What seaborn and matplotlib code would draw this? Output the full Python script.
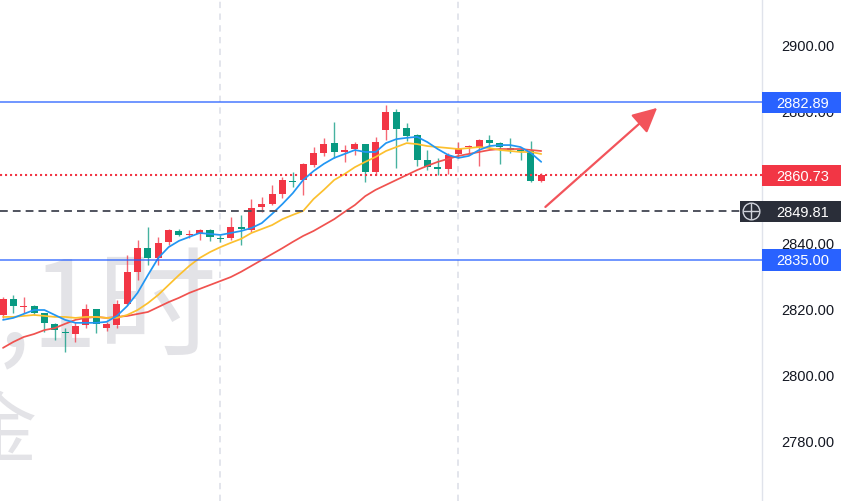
import numpy as np
import pandas as pd
import matplotlib
matplotlib.use('Agg')
import matplotlib.pyplot as plt
import matplotlib.transforms as mtrans
from matplotlib.patches import Rectangle
from matplotlib.lines import Line2D
import seaborn as sns

# ---------------- data ----------------
opens = [2818.3, 2823.2, 2820.7, 2821.0, 2818.9, 2815.6, 2813.1, 2812.5, 2815.3, 2820.1, 2814.3, 2815.3, 2821.6,
         2831.4, 2838.6, 2835.6, 2840.5, 2843.8, 2842.6, 2842.9, 2844.1, 2841.7, 2841.7, 2845.0, 2844.1, 2851.1,
         2852.0, 2855.0, 2859.0, 2859.3, 2863.9, 2867.5, 2870.5, 2867.8, 2868.7, 2870.2, 2861.7, 2874.5, 2879.9,
         2875.1, 2873.0, 2865.4, 2863.2, 2862.6, 2867.2, 2869.3, 2869.3, 2871.4, 2870.5, 2869.0, 2868.4, 2868.1,
         2859.0]
highs = [2823.8, 2824.4, 2823.8, 2821.3, 2818.9, 2815.9, 2814.3, 2816.2, 2821.6, 2820.1, 2816.2, 2822.8, 2836.5,
         2841.1, 2845.0, 2842.0, 2844.4, 2844.4, 2844.1, 2844.4, 2844.4, 2842.6, 2848.1, 2848.7, 2853.5, 2854.1,
         2857.8, 2860.2, 2861.7, 2864.5, 2869.3, 2872.1, 2876.9, 2869.9, 2870.8, 2870.2, 2872.4, 2882.1, 2880.9,
         2876.6, 2873.3, 2868.4, 2866.0, 2867.5, 2870.8, 2869.9, 2871.7, 2873.0, 2870.8, 2872.1, 2869.0, 2871.1,
         2861.4]
lows = [2817.4, 2818.9, 2818.9, 2818.3, 2813.1, 2810.7, 2807.0, 2810.1, 2814.3, 2812.8, 2813.4, 2814.3, 2821.3,
        2828.9, 2833.5, 2833.5, 2839.6, 2842.3, 2841.7, 2841.1, 2840.8, 2840.5, 2841.1, 2839.6, 2843.5, 2849.6,
        2851.7, 2853.8, 2857.2, 2854.7, 2863.2, 2866.6, 2866.0, 2864.8, 2866.9, 2858.7, 2860.8, 2871.4, 2862.9,
        2871.1, 2863.6, 2862.3, 2860.8, 2861.1, 2866.0, 2867.2, 2863.6, 2868.7, 2864.2, 2867.5, 2865.4, 2858.7,
        2858.7]
closes = [2823.2, 2821.0, 2821.0, 2818.9, 2815.9, 2813.7, 2812.8, 2814.9, 2820.1, 2815.6, 2815.6, 2821.6, 2831.4,
          2838.6, 2835.6, 2840.2, 2844.1, 2842.6, 2842.9, 2844.1, 2842.0, 2841.4, 2845.0, 2844.4, 2850.8, 2852.0,
          2855.0, 2859.3, 2858.7, 2864.2, 2867.5, 2870.2, 2867.8, 2868.4, 2870.2, 2861.7, 2870.8, 2879.9, 2874.8,
          2872.7, 2865.4, 2863.2, 2862.6, 2866.9, 2869.0, 2869.6, 2871.4, 2870.5, 2869.3, 2868.4, 2868.1, 2859.0,
          2860.7]

ma_fast = [2816.8, 2817.4, 2818.6, 2819.8, 2819.8, 2818.3, 2816.8, 2815.9, 2815.9, 2815.9, 2816.2, 2818.0, 2821.0,
           2825.0, 2830.4, 2835.6, 2838.9, 2840.8, 2842.0, 2843.2, 2842.9, 2842.6, 2843.2, 2843.8, 2844.7, 2846.2,
           2849.0, 2852.0, 2855.3, 2859.3, 2862.0, 2864.2, 2866.0, 2867.2, 2868.4, 2867.8, 2867.8, 2870.5, 2871.7,
           2872.1, 2872.4, 2870.8, 2868.7, 2866.9, 2866.0, 2866.6, 2868.4, 2869.6, 2869.9, 2869.9, 2869.3, 2867.5,
           2864.8]
ma_mid = [2817.7, 2817.7, 2818.0, 2818.3, 2818.0, 2817.7, 2817.7, 2817.4, 2817.7, 2817.7, 2817.4, 2817.4, 2818.3,
          2819.8, 2821.9, 2824.4, 2827.4, 2830.4, 2833.2, 2835.6, 2837.4, 2838.9, 2840.2, 2841.4, 2843.2, 2844.4,
          2845.6, 2847.4, 2848.7, 2849.9, 2853.5, 2856.3, 2859.3, 2861.1, 2863.2, 2864.8, 2866.3, 2868.1, 2869.3,
          2870.5, 2870.2, 2869.6, 2869.3, 2869.0, 2868.7, 2869.0, 2869.3, 2869.0, 2868.4, 2868.1, 2867.8, 2867.8,
          2867.2]
ma_slow = [2808.3, 2810.1, 2811.6, 2812.5, 2813.7, 2814.3, 2815.6, 2816.8, 2817.4, 2817.7, 2817.4, 2817.7, 2818.0,
           2818.6, 2819.2, 2820.7, 2822.2, 2823.5, 2825.0, 2826.2, 2827.4, 2828.6, 2829.8, 2831.4, 2833.2, 2835.0,
           2836.8, 2838.6, 2840.5, 2842.3, 2843.8, 2845.6, 2847.4, 2849.6, 2851.7, 2854.4, 2856.3, 2857.8, 2859.3,
           2860.8, 2862.3, 2863.6, 2864.8, 2865.7, 2866.6, 2867.2, 2867.8, 2868.4, 2868.7, 2868.7, 2868.7, 2868.4,
           2868.1]

resistance = 2882.89
support = 2835.00
last_price = 2860.73
cross_price = 2849.81
day_breaks = [21, 44]
y_ticks = [2780, 2800, 2820, 2840, 2880, 2900]
arrow_from = (52.4, 2851.1)
arrow_to = (63.2, 2881.2)
watermark_line1 = "XAUUSD,1时"
watermark_line2 = "现货黄金"

# ---------------- styling ----------------
sns.set_theme(style='white')
plt.rcParams['font.family'] = ['Liberation Sans', 'Noto Sans CJK SC', 'DejaVu Sans']

UP = '#f23645'
DOWN = '#089981'
W, H = 841, 501
fig = plt.figure(figsize=(W / 100, H / 100), dpi=100)
fig.patch.set_facecolor('white')
ax = fig.add_axes([0, 0, 762 / W, 1])
ax.set_facecolor('white')

n = len(opens)
idx = np.arange(n)
o = np.array(opens); c = np.array(closes); hi = np.array(highs); lo = np.array(lows)
cols = [UP if cc >= oo else DOWN for oo, cc in zip(o, c)]

# day separators
for d in day_breaks:
    ax.axvline(d, color='#e0e3eb', lw=1.3, ls=(0, (3.5, 3)), zorder=1)

# candles
ax.vlines(idx, lo, hi, colors=cols, lw=1.0, alpha=0.75, zorder=2)
ax.bar(idx, np.maximum(np.abs(c - o), 0.4), bottom=np.minimum(o, c), width=0.68,
       color=cols, edgecolor=cols, linewidth=0, zorder=2.5)

# moving averages via seaborn
ma_df = pd.DataFrame({
    'i': np.concatenate([idx, idx, idx]),
    'v': np.concatenate([ma_slow, ma_mid, ma_fast]),
    'ma': ['slow'] * n + ['mid'] * n + ['fast'] * n,
})
sns.lineplot(data=ma_df, x='i', y='v', hue='ma', hue_order=['slow', 'mid', 'fast'],
             palette={'slow': '#f0524f', 'mid': '#fcc02e', 'fast': '#2196f3'},
             lw=1.25, legend=False, ax=ax, zorder=3)

# horizontal levels
ax.axhline(resistance, color='#2962ff', lw=1.1, alpha=0.85, zorder=4)
ax.axhline(support, color='#2962ff', lw=1.1, alpha=0.85, zorder=4)
ax.axhline(last_price, color=UP, lw=1.5, ls=(0, (1, 1.4)), zorder=4)
ax.axhline(cross_price, color='#50535e', lw=1.4, ls=(0, (4, 2.6)), zorder=4)

# arrow
ax.annotate('', xy=arrow_to, xytext=arrow_from,
            arrowprops=dict(arrowstyle='-|>,head_length=1.0,head_width=0.5', color='#f2545b',
                            lw=1.6, shrinkA=0, shrinkB=0, mutation_scale=15), zorder=5)

# watermark
ax.text(218 / W, 1 - 347 / H, watermark_line1, transform=fig.transFigure, ha='right', va='baseline',
        fontsize=86, color='#e3e3e7', family=['Noto Sans CJK SC', 'DejaVu Sans'], zorder=0.5)
ax.text(38 / W, 1 - 455 / H, watermark_line2, transform=fig.transFigure, ha='right', va='baseline',
        fontsize=56, color='#e3e3e7', family=['Noto Sans CJK SC', 'DejaVu Sans'], zorder=0.5)

# axes
ax.set_xlim(-0.29, 73.33)
ax.set_ylim(2761.78, 2913.97)
ax.set_xticks([])
ax.yaxis.tick_right()
ax.set_yticks(y_ticks)
ax.set_yticklabels([f'{t:.2f}' for t in y_ticks])
ax.tick_params(axis='y', length=0, pad=14, labelsize=10.5, labelcolor='#131722')
ax.set_xlabel(''); ax.set_ylabel('')
for s in ['top', 'left', 'bottom']:
    ax.spines[s].set_visible(False)
ax.spines['right'].set_color('#e0e3eb')
ax.spines['right'].set_linewidth(1.0)

# price labels on the axis
bt = mtrans.blended_transform_factory(fig.transFigure, ax.transData)
box_h = 6.5
def price_box(price, color, x0=762):
    fig.add_artist(Rectangle((x0 / W, price - box_h / 2), (W - x0) / W, box_h, transform=bt,
                             facecolor=color, edgecolor='none', zorder=10))
    fig.text(802.5 / W, price, f'{price:.2f}', transform=bt, ha='center', va='center_baseline',
             color='white', fontsize=10.5, zorder=11)

price_box(resistance, '#2962ff')
price_box(support, '#2962ff')
price_box(last_price, UP)
price_box(cross_price, '#2a2e39', x0=740)
fig.add_artist(Line2D([751 / W], [cross_price], transform=bt, marker='o', markersize=12,
                      mfc='none', mec='#d1d4dc', mew=1.0, zorder=12))
fig.add_artist(Line2D([751 / W], [cross_price], transform=bt, marker='+', markersize=12,
                      mec='#d1d4dc', mew=1.0, zorder=12))

fig.savefig('out.png', dpi=100, facecolor='white')
